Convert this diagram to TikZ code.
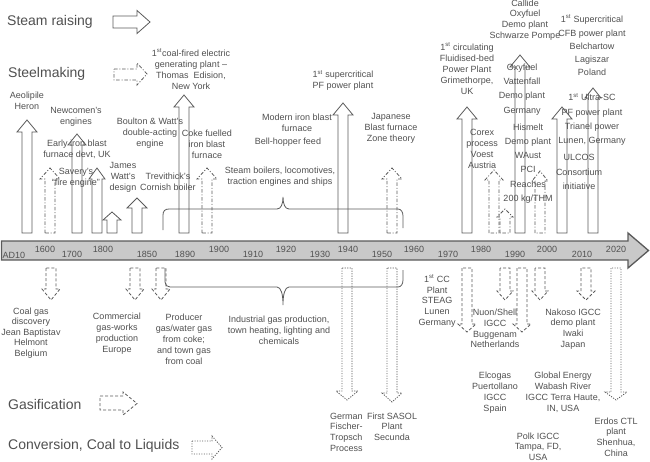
\documentclass[tikz,border=0pt]{standalone}
\usepackage{fontspec}
\setmainfont{Liberation Sans}
\definecolor{lc}{HTML}{5A5A5A}
\definecolor{tc}{HTML}{505050}
\definecolor{barfill}{HTML}{C9C9C9}
\newcommand\UpArr[6]{\draw[#1] ({#2-5},#3) -- ({#2-5},{#4+#6}) -- ({#2-#5},{#4+#6}) -- (#2,#4) -- ({#2+#5},{#4+#6}) -- ({#2+5},{#4+#6}) -- ({#2+5},#3) -- cycle;}
\newcommand\DnArr[6]{\draw[#1] ({#2-5},#3) -- ({#2-5},{#4-#6}) -- ({#2-#5},{#4-#6}) -- (#2,#4) -- ({#2+#5},{#4-#6}) -- ({#2+5},{#4-#6}) -- ({#2+5},#3) -- cycle;}
\tikzset{
 ln/.style={draw=lc, line width=0.8pt, line join=miter},
 steamA/.style={ln},
 steelA/.style={ln, dash pattern=on 3.5pt off 1.8pt on 1pt off 1.8pt},
 gasA/.style={ln, dash pattern=on 3pt off 2pt},
 ctlA/.style={ln, dash pattern=on 1.2pt off 1.3pt},
 lbl/.style={font=\fontsize{9}{11}\selectfont, text=tc, align=center, inner sep=0pt},
 lblw/.style={font=\fontsize{9}{14.3}\selectfont, text=tc, align=center, inner sep=0pt},
 yr/.style={font=\fontsize{9}{11}\selectfont, text=tc, inner sep=0pt},
 big/.style={font=\fontsize{14}{16}\selectfont, text=tc, anchor=west, inner sep=0pt},
}
\begin{document}
\begin{tikzpicture}[x=1pt,y=-1pt]
\useasboundingbox (0,0) rectangle (650,461);

% timeline bar
\draw[draw=lc, line width=1.3pt, fill=barfill] (1.5,241) -- (628,241) -- (628,233) -- (648.5,250.5) -- (628,268) -- (628,260) -- (1.5,260) -- cycle;
\node[yr] (y0) at (14,255) {AD10};
\node[yr] (y1) at (45,249) {1600};
\node[yr] (y2) at (72,254) {1700};
\node[yr] (y3) at (103,249) {1800};
\node[yr] (y4) at (147,254) {1850};
\node[yr] (y5) at (185,254) {1890};
\node[yr] (y6) at (219,249) {1900};
\node[yr] (y7) at (253,254) {1910};
\node[yr] (y8) at (286,249) {1920};
\node[yr] (y9) at (320,254) {1930};
\node[yr] (y10) at (348,249) {1940};
\node[yr] (y11) at (382,254) {1950};
\node[yr] (y12) at (414,249) {1960};
\node[yr] (y13) at (448,254) {1970};
\node[yr] (y14) at (481,249) {1980};
\node[yr] (y15) at (515,254) {1990};
\node[yr] (y16) at (547,249) {2000};
\node[yr] (y17) at (582,254) {2010};
\node[yr] (y18) at (616,249) {2020};

% legend
\node[big] (lg1) at (7,22) {Steam raising};
\draw[steamA] (113,16) -- (137,16) -- (137,10.5) -- (150,22) -- (137,33.5) -- (137,28) -- (113,28) -- cycle;
\node[big] (lg2) at (8,74) {Steelmaking};
\draw[steelA] (114,69) -- (137,69) -- (137,63) -- (147,74) -- (137,85) -- (137,80) -- (114,80) -- cycle;
\node[big] (lg3) at (8,404) {Gasification};
\draw[gasA] (100,396) -- (123,396) -- (123,392) -- (137,403.5) -- (123,415) -- (123,410) -- (100,410) -- cycle;
\node[big] (lg4) at (8,446) {Conversion, Coal to Liquids};
\draw[ctlA] (192,441) -- (212,441) -- (212,436) -- (222,447.5) -- (212,459) -- (212,454) -- (192,454) -- cycle;

% upward arrows
\UpArr{steamA}{27}{233}{120}{10}{12}
\UpArr{steelA}{50}{233}{168}{10}{11}
\UpArr{steamA}{77}{233}{134}{9}{11}
\UpArr{steamA}{97}{233}{168}{8}{11}
\UpArr{steamA}{112}{233}{212}{9}{8}
\UpArr{steamA}{137}{233}{198}{10}{10}
\UpArr{steamA}{184}{233}{95}{10}{12}
\UpArr{steelA}{207}{233}{168}{10}{11}
\UpArr{steamA}{343}{233}{103}{10}{12}
\UpArr{steelA}{392}{233}{168}{10}{11}
\UpArr{steamA}{467}{233}{107}{10}{12}
\UpArr{steelA}{494}{233}{170}{9}{10}
\UpArr{steelA}{505}{233}{209}{8}{8}
\UpArr{steamA}{520}{233}{55}{10}{12}
\UpArr{steelA}{540}{233}{171}{8}{10}
\UpArr{steamA}{562}{233}{107}{10}{12}
\UpArr{steamA}{593}{233}{88}{8}{10}

% downward arrows
\DnArr{gasA}{51}{268}{300}{9}{11}
\DnArr{gasA}{135}{268}{300}{9}{11}
\DnArr{gasA}{161}{268}{300}{9}{11}
\DnArr{ctlA}{347}{268}{400}{11}{9}
\DnArr{ctlA}{392}{268}{402}{10}{9}
\DnArr{gasA}{467}{268}{332}{9}{8}
\DnArr{gasA}{505}{268}{300}{8}{9}
\DnArr{gasA}{522}{268}{332}{9}{8}
\DnArr{gasA}{540}{268}{300}{8}{9}
\DnArr{gasA}{586}{268}{300}{9}{9}
\DnArr{ctlA}{616}{268}{400}{11}{8}

% braces
\draw[ln] (163,230) -- (163,215) .. controls (163,211) and (165,209) .. (169,209) -- (277,209) .. controls (281,209) and (283,204) .. (283,197) .. controls (283,204) and (285,209) .. (289,209) -- (398,209) .. controls (401,209) and (403,212) .. (403,216) -- (403,228);
\draw[ln] (165,268) -- (165,282) .. controls (165,285) and (167,287) .. (170,287) -- (277,287) .. controls (281,287) and (283,294) .. (283,305) .. controls (283,294) and (285,287) .. (289,287) -- (398,287) .. controls (401,287) and (403,284) .. (403,280) -- (403,270);

% upper labels
\node[lbl] (t1) at (27,100.5) {Aeolipile\\Heron};
\node[lbl] (t2) at (76,117) {Newcomen's\\engines};
\node[lbl] (t3) at (77,149) {Early iron blast\\furnace devt, UK};
\node[lbl] (t4) at (76,177.5) {Savery's\\“fire engine”};
\node[lbl] (t5) at (123,177.5) {James\\Watt's\\design};
\node[lbl] (t6) at (150,133) {Boulton \& Watt's\\double-acting\\engine};
\node[lbl] (t7) at (168,182) {Trevithick's\\Cornish boiler};
\node[lbl] (t8) at (191,69.5) {1\textsuperscript{st}coal-fired electric\\generating plant --\\Thomas\ \ Edision,\\New York};
\node[lbl] (t9) at (207,144) {Coke fuelled\\iron blast\\furnace};
\node[lbl] (t10) at (280,176.5) {Steam boilers, locomotives,\\traction engines and ships};
\node[lbl] (t11) at (297,122.5) {Modern iron blast\\furnace};
\node[lbl] (t12) at (288,142) {Bell-hopper feed};
\node[lbl] (t13) at (343,80.5) {1\textsuperscript{st} supercritical\\PF power plant};
\node[lbl] (t14) at (391,128) {Japanese\\Blast furnace\\Zone theory};
\node[lbl] (t15) at (467,69) {1\textsuperscript{st} circulating\\Fluidised-bed\\Power Plant\\Grimethorpe,\\UK};
\node[lbl] (t16) at (482,148.5) {Corex\\process\\Voest\\Austria};
\node[lbl, font=\fontsize{9}{10.7}\selectfont] (t17) at (525,20) {Callide\\Oxyfuel\\Demo plant\\Schwarze Pompe};
\node[lblw] (t18) at (522,89.5) {Oxyfuel\\Vattenfall\\Demo plant\\Germany};
\node[lblw] (t19) at (528,163.5) {Hismelt\\Demo plant\\WAust\\PCI\\Reaches\\200 kg/THM};
\node[lbl, font=\fontsize{9}{13.25}\selectfont] (t20) at (592,45.5) {1\textsuperscript{st} Supercritical\\CFB power plant\\Belchartow\\Lagiszar\\Poland};
\node[lblw] (t21) at (592,119.5) {1\textsuperscript{st} Ultra-SC\\PF power plant\\Trianel power\\Lunen, Germany};
\node[lblw] (t22) at (579,172) {ULCOS\\Consortium\\initiative};

% lower labels
\node[lbl, font=\fontsize{9}{10.6}\selectfont] (b1) at (31,333) {Coal gas\\discovery\\Jean Baptistav\\Helmont\\Belgium};
\node[lbl] (b2) at (117,333.5) {Commercial\\gas-works\\production\\Europe};
\node[lbl] (b3) at (184,339) {Producer\\gas/water gas\\from coke;\\and town gas\\from coal};
\node[lbl] (b4) at (279,330.5) {Industrial gas production,\\town heating, lighting and\\chemicals};
\node[lbl, align=left, anchor=west, font=\fontsize{9}{10.7}\selectfont] (b5) at (330,432) {German\\Fischer-\\Tropsch\\Process};
\node[lbl, font=\fontsize{9}{10.7}\selectfont] (b6) at (392,426.5) {First SASOL\\Plant\\Secunda};
\node[lbl, font=\fontsize{9}{10.6}\selectfont] (b7) at (437,301) {1\textsuperscript{st} CC\\Plant\\STEAG\\Lunen\\Germany};
\node[lbl, font=\fontsize{9}{10.7}\selectfont] (b8) at (495,328.5) {Nuon/Shell\\IGCC\\Buggenam\\Netherlands};
\node[lbl, font=\fontsize{9}{10.7}\selectfont] (b9) at (573,329) {Nakoso IGCC\\demo plant\\Iwaki\\Japan};
\node[lbl] (b10) at (495,392.5) {Elcogas\\Puertollano\\IGCC\\Spain};
\node[lbl] (b11) at (563,392.5) {Global Energy\\Wabash River\\IGCC Terra Haute,\\IN, USA};
\node[lbl, font=\fontsize{9}{10.5}\selectfont] (b12) at (538,446.5) {Polk IGCC\\Tampa, FD,\\USA};
\node[lbl, font=\fontsize{9}{10.7}\selectfont] (b13) at (616,437) {Erdos CTL\\plant\\Shenhua,\\China};
\end{tikzpicture}
\end{document}
